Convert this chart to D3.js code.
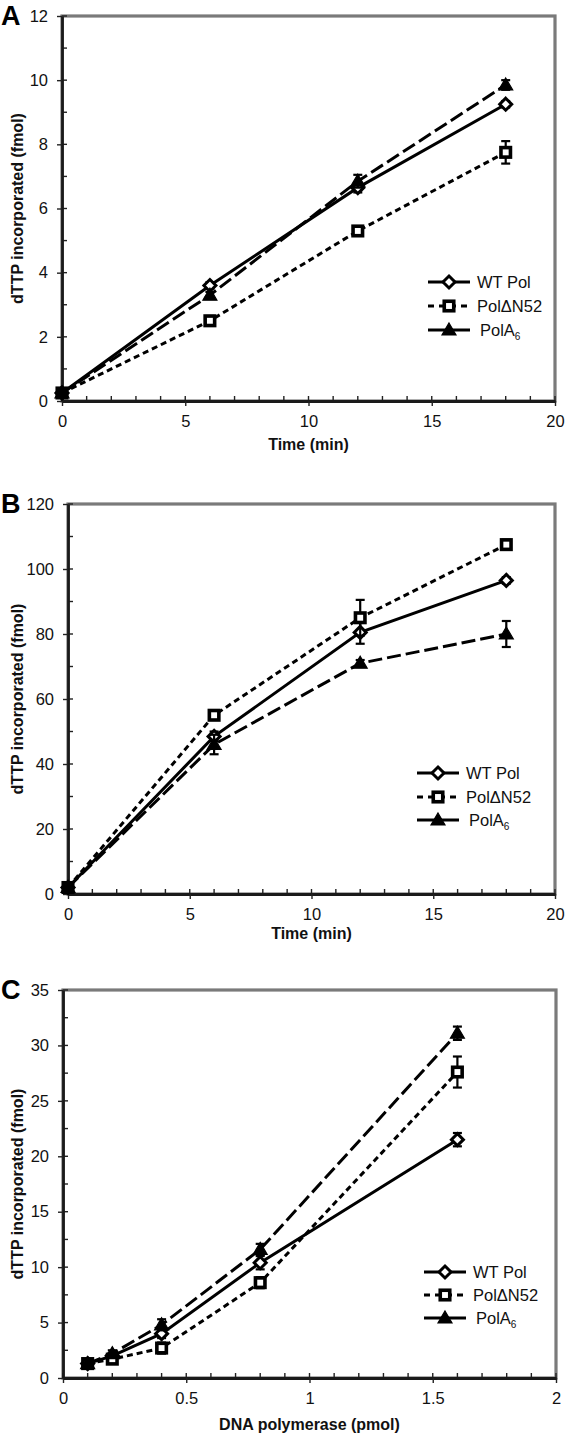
<!DOCTYPE html>
<html><head><meta charset="utf-8">
<script src="https://cdn.jsdelivr.net/npm/d3@7"></script>
<style>
html,body{margin:0;padding:0;background:#fff;}
svg{display:block;font-family:"Liberation Sans",Arial,sans-serif;}
</style></head>
<body><svg id="c" width="566" height="1434"></svg>
<script>
// ---------- data ----------
const seriesNames = ["WT Pol", "PolΔN52", "PolA"];
const timeMin = [0, 6, 12, 18];
const pmolDNA = [0.1, 0.2, 0.4, 0.8, 1.6];

const aWT = [0.25, 3.6, 6.65, 9.25];   const aWTErr = [0.05, 0.1, 0.15, 0.1];
const aDN = [0.25, 2.5, 5.3, 7.75];    const aDNErr = [0.05, 0.15, 0.1, 0.35];
const aA6 = [0.25, 3.3, 6.85, 9.85];   const aA6Err = [0.05, 0.1, 0.2, 0.15];

const bWT = [2, 48.5, 80.5, 96.5];     const bWTErr = [0.5, 1.5, 3.5, 1];
const bDN = [2, 55, 85, 107.5];        const bDNErr = [0.5, 1, 5.5, 1.5];
const bA6 = [2, 46, 71, 80];           const bA6Err = [0.5, 3, 1, 4];

const cWT = [1.3, 2.0, 4.0, 10.4, 21.5]; const cWTErr = [0.3, 0.2, 0.4, 0.6, 0.6];
const cDN = [1.3, 1.7, 2.7, 8.6, 27.6];  const cDNErr = [0.3, 0.3, 0.5, 0.5, 1.4];
const cA6 = [1.3, 2.2, 4.8, 11.6, 31.1]; const cA6Err = [0.3, 0.3, 0.5, 0.5, 0.6];

const xTicksTime = [0, 5, 10, 15, 20];
const xTicksPmol = [0, 0.5, 1, 1.5, 2];
const yTicksA = [0, 2, 4, 6, 8, 10, 12];
const yTicksB = [0, 20, 40, 60, 80, 100, 120];
const yTicksC = [0, 5, 10, 15, 20, 25, 30, 35];

// ---------- layout ----------
const panels = [
  {label:"A", xs:timeMin, series:[[aWT,aWTErr],[aDN,aDNErr],[aA6,aA6Err]],
   xDom:[0,20], yDom:[0,12], xr:[62,555], yr:[401,16], xTicks:xTicksTime, yTicks:yTicksA,
   xMinor:1, yMinor:1, xTitle:"Time (min)", xTitleY:450, legX:428, legY:[282,306,330]},
  {label:"B", xs:timeMin, series:[[bWT,bWTErr],[bDN,bDNErr],[bA6,bA6Err]],
   xDom:[0,20], yDom:[0,120], xr:[68,555], yr:[894,504], xTicks:xTicksTime, yTicks:yTicksB,
   xMinor:1, yMinor:10, xTitle:"Time (min)", xTitleY:939, legX:417, legY:[773,797,820]},
  {label:"C", xs:pmolDNA, series:[[cWT,cWTErr],[cDN,cDNErr],[cA6,cA6Err]],
   xDom:[0,2], yDom:[0,35], xr:[63,556], yr:[1378,990], xTicks:xTicksPmol, yTicks:yTicksC,
   xMinor:0.1, yMinor:2.5, xTitle:"DNA polymerase (pmol)", xTitleY:1430, legX:424, legY:[1272,1295,1318]}
];
const dashes = [null, "6,4", "14,5"];
const svg = d3.select("#c");

function marker(g, i, x, y) {
  if (i === 0) {
    const r = 6;
    g.append("path").attr("d", `M${x},${y-r}L${x+r},${y}L${x},${y+r}L${x-r},${y}Z`)
      .attr("fill","#fff").attr("stroke","#000").attr("stroke-width",3);
  } else if (i === 1) {
    const s = 9.5;
    g.append("rect").attr("x",x-s/2).attr("y",y-s/2).attr("width",s).attr("height",s)
      .attr("fill","#fff").attr("stroke","#000").attr("stroke-width",3.6);
  } else {
    g.append("path").attr("d", `M${x},${y-7}L${x+7},${y+5}L${x-7},${y+5}Z`)
      .attr("fill","#000").attr("stroke","#000").attr("stroke-width",1.2);
  }
}

panels.forEach(p => {
  const x = d3.scaleLinear().domain(p.xDom).range(p.xr);
  const y = d3.scaleLinear().domain(p.yDom).range(p.yr);
  const g = svg.append("g");
  const [L, R] = p.xr, [B, T] = p.yr;

  // plot frame
  g.append("rect").attr("x",L).attr("y",T).attr("width",R-L).attr("height",B-T)
    .attr("fill","none").attr("stroke","#7a7a7a").attr("stroke-width",3.2);

  // minor ticks (inside)
  const xMin = d3.range(p.xDom[0], p.xDom[1] + 1e-9, p.xMinor);
  g.selectAll(null).data(xMin).enter().append("line")
    .attr("x1",d=>x(d)).attr("x2",d=>x(d)).attr("y1",B).attr("y2",B-5)
    .attr("stroke","#222").attr("stroke-width",1.4);
  const yMin = d3.range(p.yDom[0], p.yDom[1] + 1e-9, p.yMinor);
  g.selectAll(null).data(yMin).enter().append("line")
    .attr("y1",d=>y(d)).attr("y2",d=>y(d)).attr("x1",L).attr("x2",L+5)
    .attr("stroke","#222").attr("stroke-width",1.4);

  // axes with outward major ticks
  const xAxis = d3.axisBottom(x).tickValues(p.xTicks).tickSize(5).tickSizeOuter(0).tickPadding(9)
    .tickFormat(d3.format("~g"));
  const xa = g.append("g").attr("transform",`translate(0,${B})`).call(xAxis);
  const yAxis = d3.axisLeft(y).tickValues(p.yTicks).tickSize(5).tickSizeOuter(0).tickPadding(9);
  const ya = g.append("g").attr("transform",`translate(${L},0)`).call(yAxis);
  [xa, ya].forEach(a => {
    a.select(".domain").attr("stroke","#1a1a1a").attr("stroke-width",2.8);
    a.selectAll(".tick line").attr("stroke","#222").attr("stroke-width",1.4);
    a.selectAll(".tick text").attr("font-size",16.5).attr("fill","#111")
      .attr("font-family",'"Liberation Sans",Arial,sans-serif');
  });

  // titles
  g.append("text").attr("x",(L+R)/2).attr("y",p.xTitleY).attr("text-anchor","middle")
    .attr("font-size",16).attr("font-weight","bold").attr("fill","#111").text(p.xTitle);
  g.append("text").attr("transform",`translate(23,${(T+B)/2}) rotate(-90)`).attr("text-anchor","middle")
    .attr("font-size",16).attr("font-weight","bold").attr("fill","#111").text("dTTP incorporated (fmol)");
  g.append("text").attr("x",1).attr("y",T+9).attr("font-size",27).attr("font-weight","bold")
    .attr("fill","#000").text(p.label);

  // series lines
  const line = d3.line().x(d=>x(d[0])).y(d=>y(d[1]));
  p.series.forEach((s, i) => {
    const pts = p.xs.map((xv, k) => [xv, s[0][k]]);
    g.append("path").datum(pts).attr("d",line).attr("fill","none").attr("stroke","#000")
      .attr("stroke-width",3).attr("stroke-dasharray",dashes[i]);
  });
  // error bars + markers
  p.series.forEach((s, i) => {
    p.xs.forEach((xv, k) => {
      const cx = x(xv), v = s[0][k], e = s[1][k];
      const y1 = y(v + e), y2 = y(v - e);
      g.append("line").attr("x1",cx).attr("x2",cx).attr("y1",y1).attr("y2",y2).attr("stroke","#000").attr("stroke-width",2.2);
      [y1, y2].forEach(yy => g.append("line").attr("x1",cx-4.5).attr("x2",cx+4.5).attr("y1",yy).attr("y2",yy)
        .attr("stroke","#000").attr("stroke-width",2.2));
      marker(g, i, cx, y(v));
    });
  });

  // legend
  seriesNames.forEach((name, i) => {
    const ly = p.legY[i], lx = p.legX;
    g.append("line").attr("x1",lx).attr("x2",lx+42).attr("y1",ly).attr("y2",ly)
      .attr("stroke","#000").attr("stroke-width",3)
      .attr("stroke-dasharray", i===1 ? "6,5" : null);
    marker(g, i, lx+21, ly);
    const t = g.append("text").attr("x",lx+(i===2?52:49)).attr("y",ly+6).attr("font-size",16.5).attr("fill","#111");
    t.append("tspan").text(name);
    if (i === 2) t.append("tspan").attr("font-size",10).attr("dy",4).text("6");
  });
});
</script></body></html>
